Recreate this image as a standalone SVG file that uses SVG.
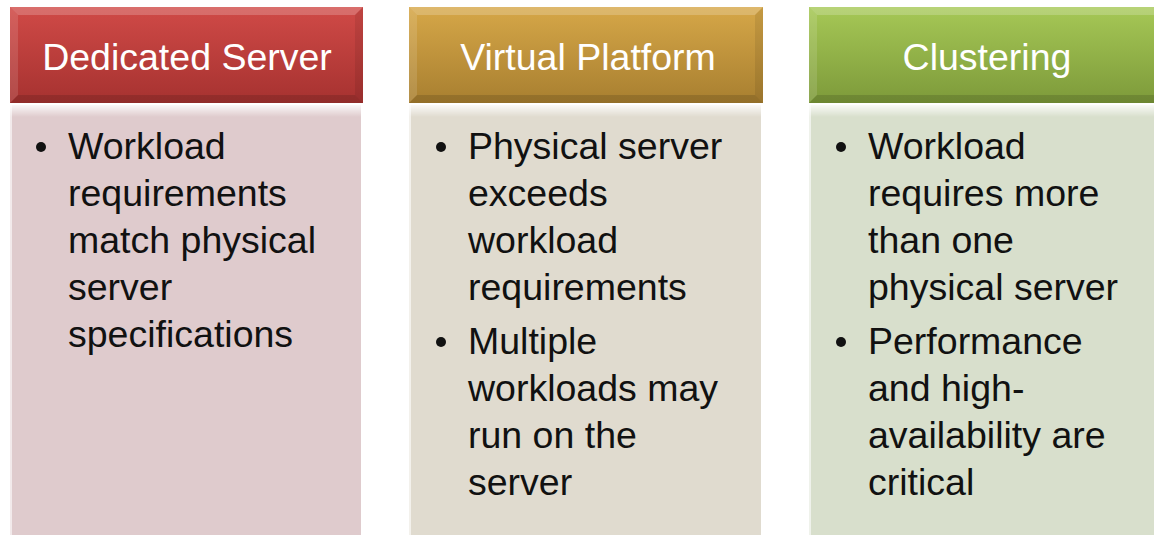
<svg xmlns="http://www.w3.org/2000/svg" width="1154" height="535" viewBox="0 0 1154 535">
<defs>
<linearGradient id="gRed" x1="0" y1="0" x2="0" y2="1"><stop offset="0" stop-color="#d04a47"/><stop offset="1" stop-color="#a63230"/></linearGradient>
<linearGradient id="gGold" x1="0" y1="0" x2="0" y2="1"><stop offset="0" stop-color="#d6a748"/><stop offset="1" stop-color="#a87f30"/></linearGradient>
<linearGradient id="gGreen" x1="0" y1="0" x2="0" y2="1"><stop offset="0" stop-color="#a6c856"/><stop offset="1" stop-color="#7d9a3a"/></linearGradient>
<linearGradient id="gShine" x1="0" y1="0" x2="0" y2="1"><stop offset="0" stop-color="#ffffff" stop-opacity="0.85"/><stop offset="1" stop-color="#ffffff" stop-opacity="0"/></linearGradient>
</defs>
<style>
.hd{font-family:"Liberation Sans",Arial,sans-serif;font-size:37.5px;fill:#ffffff;text-anchor:middle}
.tx{font-family:"Liberation Sans",Arial,sans-serif;font-size:37.5px;fill:#111111}
.bl{fill:#111111}
.bevT{fill:#ffffff;opacity:0.2}
.bevL{fill:#ffffff;opacity:0.12}
.bevR{fill:#000000;opacity:0.08}
.bevB{fill:#000000;opacity:0.13}
.shine{fill:url(#gShine)}
.edge{fill:#ffffff;opacity:0.6}
</style>
<rect width="1154" height="535" fill="#ffffff"/>

<g id="col-dedicated">
<rect x="10" y="105" width="351" height="440" fill="#dfcbcd"/>
<rect x="10" y="105" width="351" height="12" class="shine"/>
<rect x="10" y="105" width="2" height="440" class="edge"/>
<g id="hdr-dedicated">
<rect x="10" y="7" width="353" height="96" fill="url(#gRed)"/>
<polygon points="10,7 363,7 355,15 18,15" class="bevT"/>
<polygon points="10,7 18,15 18,95 10,103" class="bevL"/>
<polygon points="363,7 363,103 355,95 355,15" class="bevR"/>
<polygon points="10,103 18,95 355,95 363,103" class="bevB"/>
<text x="187" y="70" class="hd">Dedicated Server</text>
</g>
<circle cx="41" cy="147" r="5" class="bl"/>
<text class="tx"><tspan x="68" y="159">Workload</tspan><tspan x="68" y="206">requirements</tspan><tspan x="68" y="253">match physical</tspan><tspan x="68" y="300">server</tspan><tspan x="68" y="347">specifications</tspan></text>
</g>

<g id="col-virtual">
<rect x="409" y="105" width="352" height="440" fill="#e0dbcf"/>
<rect x="409" y="105" width="352" height="12" class="shine"/>
<rect x="409" y="105" width="2" height="440" class="edge"/>
<g id="hdr-virtual">
<rect x="409" y="7" width="354" height="96" fill="url(#gGold)"/>
<polygon points="409,7 763,7 755,15 417,15" class="bevT"/>
<polygon points="409,7 417,15 417,95 409,103" class="bevL"/>
<polygon points="763,7 763,103 755,95 755,15" class="bevR"/>
<polygon points="409,103 417,95 755,95 763,103" class="bevB"/>
<text x="588" y="70" class="hd">Virtual Platform</text>
</g>
<circle cx="441" cy="147" r="5" class="bl"/>
<text class="tx"><tspan x="468" y="159">Physical server</tspan><tspan x="468" y="206">exceeds</tspan><tspan x="468" y="253">workload</tspan><tspan x="468" y="300">requirements</tspan></text>
<circle cx="441" cy="342" r="5" class="bl"/>
<text class="tx"><tspan x="468" y="354">Multiple</tspan><tspan x="468" y="401">workloads may</tspan><tspan x="468" y="448">run on the</tspan><tspan x="468" y="495">server</tspan></text>
</g>

<g id="col-clustering">
<rect x="809" y="105" width="360" height="440" fill="#d8dfcc"/>
<rect x="809" y="105" width="360" height="12" class="shine"/>
<rect x="809" y="105" width="2" height="440" class="edge"/>
<g id="hdr-clustering">
<rect x="809" y="7" width="360" height="96" fill="url(#gGreen)"/>
<polygon points="809,7 1169,7 1161,15 817,15" class="bevT"/>
<polygon points="809,7 817,15 817,95 809,103" class="bevL"/>
<polygon points="809,103 817,95 1161,95 1169,103" class="bevB"/>
<text x="987" y="70" class="hd">Clustering</text>
</g>
<circle cx="841" cy="147" r="5" class="bl"/>
<text class="tx"><tspan x="868" y="159">Workload</tspan><tspan x="868" y="206">requires more</tspan><tspan x="868" y="253">than one</tspan><tspan x="868" y="300">physical server</tspan></text>
<circle cx="841" cy="342" r="5" class="bl"/>
<text class="tx"><tspan x="868" y="354">Performance</tspan><tspan x="868" y="401">and high-</tspan><tspan x="868" y="448">availability are</tspan><tspan x="868" y="495">critical</tspan></text>
</g>
</svg>
